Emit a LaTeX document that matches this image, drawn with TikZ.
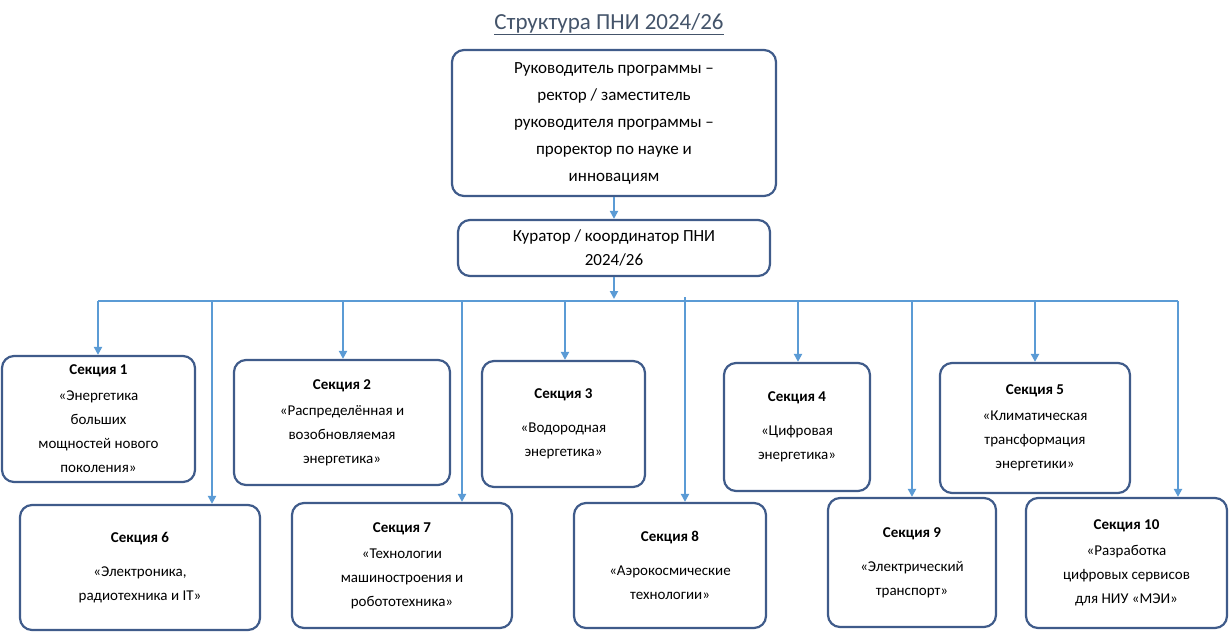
\documentclass[tikz,border=0pt]{standalone}
\usepackage{fontspec}
\setmainfont{Carlito}
\usetikzlibrary{arrows.meta}
\definecolor{boxline}{HTML}{3F5B8A}
\definecolor{arrowblue}{HTML}{5B9BD5}
\definecolor{titlecol}{HTML}{44546A}
\tikzset{
  unitbox/.style={draw=boxline,line width=2.2pt,rounded corners=12pt,align=center,inner sep=2pt},
  sectbox/.style={unitbox,font=\fontsize{15}{24}\selectfont},
  bus/.style={draw=arrowblue,line width=2.5pt},
  feed/.style={bus,-{Triangle[length=8pt,width=8pt]}}
}
\begin{document}
\begin{tikzpicture}[x=1pt,y=-1pt]
\useasboundingbox (0,0) rectangle (1229,632);
\node[text=titlecol,font=\fontsize{23}{26}\selectfont] (title) at (609,24) {\underline{Структура ПНИ 2024/26}};
\node[unitbox,minimum width=324pt,minimum height=146pt,font=\fontsize{17}{27}\selectfont] (head) at (614,123)
  {Руководитель программы --\\ректор / заместитель\\руководителя программы --\\проректор по науке и\\инновациям};
\node[unitbox,minimum width=312pt,minimum height=56pt,font=\fontsize{17}{24}\selectfont] (curator) at (614,248)
  {Куратор / координатор ПНИ\\2024/26};
% секции, верхний ряд
\node[sectbox,minimum width=193pt,minimum height=126pt] (s1) at (98.5,419) {\textbf{Секция 1}\\[2pt]«Энергетика\\больших\\мощностей нового\\поколения»};
\node[sectbox,minimum width=216pt,minimum height=125pt] (s2) at (342,422.5) {\textbf{Секция 2}\\[2pt]«Распределённая и\\возобновляемая\\энергетика»};
\node[sectbox,minimum width=163pt,minimum height=126pt] (s3) at (563.5,424) {\textbf{Секция 3}\\[10pt]«Водородная\\энергетика»};
\node[sectbox,minimum width=146pt,minimum height=128pt] (s4) at (797,427) {\textbf{Секция 4}\\[10pt]«Цифровая\\энергетика»};
\node[sectbox,minimum width=190pt,minimum height=130pt] (s5) at (1035,428) {\textbf{Секция 5}\\[2pt]«Климатическая\\трансформация\\энергетики»};
% секции, нижний ряд
\node[sectbox,minimum width=240pt,minimum height=125pt] (s6) at (140,567.5) {\textbf{Секция 6}\\[10pt]«Электроника,\\радиотехника и IT»};
\node[sectbox,minimum width=220pt,minimum height=125pt] (s7) at (402,565.5) {\textbf{Секция 7}\\[2pt]«Технологии\\машиностроения и\\робототехника»};
\node[sectbox,minimum width=192pt,minimum height=125pt] (s8) at (670,565.5) {\textbf{Секция 8}\\[10pt]«Аэрокосмические\\технологии»};
\node[sectbox,minimum width=168pt,minimum height=129pt] (s9) at (912,562.5) {\textbf{Секция 9}\\[10pt]«Электрический\\транспорт»};
\node[sectbox,minimum width=201pt,minimum height=130pt] (s10) at (1126.5,563) {\textbf{Секция 10}\\[2pt]«Разработка\\цифровых сервисов\\для НИУ «МЭИ»};
%
\coordinate (busL) at (98,301);
\coordinate (busR) at (1178,301);
\draw[feed] (head) -- (curator);
\draw[feed] (curator) -- (614,299);
\draw[bus] (busL) -- (busR);
\foreach \s/\x in {s1/98,s6/212,s2/343,s7/462,s3/565,s8/685,s4/798,s9/912,s5/1035,s10/1178}
  \draw[feed] (\x,301) -- (\x,0 |- \s.north);
\draw[bus] (685,297) -- (685,301);
\end{tikzpicture}
\end{document}
